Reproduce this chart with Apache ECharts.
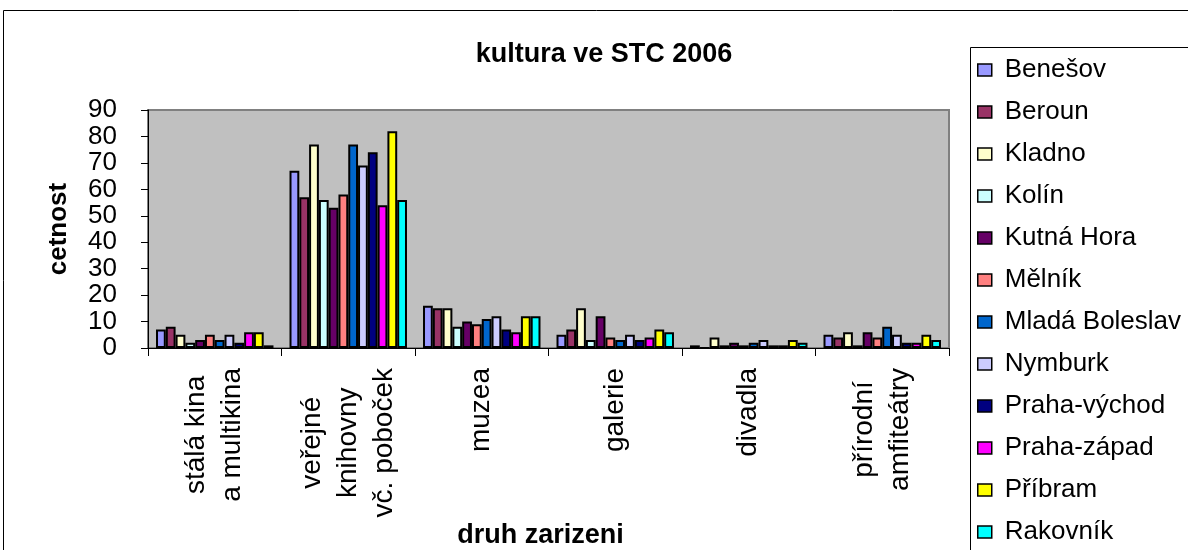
<!DOCTYPE html>
<html>
<head>
<meta charset="utf-8">
<script src="https://cdn.jsdelivr.net/npm/echarts@6/dist/echarts.min.js"></script>
<style>
  html, body { margin: 0; padding: 0; background: #fff; }
  #chart { width: 1188px; height: 550px; }
</style>
</head>
<body>
<div id="chart"></div>
<script>
// druh zarizeni
var categories = ['stálá kina\na multikina', 'veřejné\nknihovny\nvč. poboček', 'muzea', 'galerie', 'divadla', 'přírodní\namfiteátry'];
var okresy = ['Benešov', 'Beroun', 'Kladno', 'Kolín', 'Kutná Hora', 'Mělník', 'Mladá Boleslav', 'Nymburk', 'Praha-východ', 'Praha-západ', 'Příbram', 'Rakovník'];
var barvy = ['#9999FF', '#993366', '#FFFFCC', '#CCFFFF', '#660066', '#FF8080', '#0066CC', '#CCCCFF', '#000080', '#FF00FF', '#FFFF00', '#00FFFF'];

// cetnost po okresech (poradi jako categories)
var benesov = [7, 67, 16, 5, 1, 5];
var beroun = [8, 57, 15, 7, 0, 4];
var kladno = [5, 77, 15, 15, 4, 6];
var kolin = [2, 56, 8, 3, 1, 1];
var kutnaHora = [3, 53, 10, 12, 2, 6];
var melnik = [5, 58, 9, 4, 1, 4];
var mladaBoleslav = [3, 77, 11, 3, 2, 8];
var nymburk = [5, 69, 12, 5, 3, 5];
var prahaVychod = [2, 74, 7, 3, 1, 2];
var prahaZapad = [6, 54, 6, 4, 1, 2];
var pribram = [6, 82, 12, 7, 3, 5];
var rakovnik = [1, 56, 12, 6, 2, 3];
var yTicks = [0, 10, 20, 30, 40, 50, 60, 70, 80, 90];

var hodnoty = [benesov, beroun, kladno, kolin, kutnaHora, melnik, mladaBoleslav, nymburk, prahaVychod, prahaZapad, pribram, rakovnik];
var font = '"Liberation Sans", Arial, sans-serif';
var labelSize = 28;

// radky popisku vycentrovat mezi sebou (jako v Excelu)
var ctx = document.createElement('canvas').getContext('2d');
ctx.font = labelSize + 'px ' + font;
var rich = {};
var labelMap = {};
categories.forEach(function (cat, ci) {
  var lines = cat.split('\n');
  var widths = lines.map(function (s) { return ctx.measureText(s).width; });
  var maxW = Math.max.apply(null, widths);
  labelMap[cat] = lines.map(function (s, li) {
    var key = 'c' + ci + '_' + li;
    var p = (maxW - widths[li]) / 2;
    rich[key] = { fontFamily: font, fontSize: labelSize, lineHeight: 36, color: '#000', padding: [0, p, 0, p] };
    return '{' + key + '|' + s + '}';
  }).join('\n');
});

var myChart = echarts.init(document.getElementById('chart'));
myChart.setOption({
  animation: false,
  color: barvy,
  title: {
    text: 'kultura ve STC 2006',
    left: 599,
    top: 36,
    textAlign: 'center',
    textStyle: { fontFamily: font, fontSize: 27, fontWeight: 'bold', color: '#000' }
  },
  graphic: [
    // ramecek grafu a legendy
    { type: 'rect', shape: { x: 3.5, y: 10.5, width: 1300, height: 700 }, style: { fill: 'none', stroke: '#000', lineWidth: 1 }, silent: true },
    { type: 'rect', shape: { x: 970.5, y: 47.5, width: 400, height: 700 }, style: { fill: '#fff', stroke: '#000', lineWidth: 1 }, silent: true, z: -1 }
  ],
  legend: {
    orient: 'vertical',
    left: 977,
    top: 57,
    padding: 0,
    icon: 'rect',
    itemWidth: 14,
    itemHeight: 12,
    itemGap: 16,
    itemStyle: { borderColor: '#000', borderWidth: 1.5 },
    textStyle: { fontFamily: font, fontSize: 26, lineHeight: 26, color: '#000', padding: [0, 0, 0, 8] },
    data: okresy
  },
  grid: {
    left: 148,
    right: 239,
    top: 110,
    bottom: 196,
    show: true,
    backgroundColor: '#C0C0C0',
    borderColor: '#808080',
    borderWidth: 2
  },
  xAxis: {
    type: 'category',
    data: categories,
    name: 'druh zarizeni',
    nameLocation: 'middle',
    nameGap: 174,
    nameTextStyle: { fontFamily: font, fontSize: 27, fontWeight: 'bold', color: '#000', padding: [0, 16, 0, 0] },
    axisLine: { lineStyle: { color: '#000', width: 1 } },
    axisTick: { show: true, length: 8, lineStyle: { color: '#000' } },
    axisLabel: {
      interval: 0,
      rotate: 90,
      margin: 20,
      formatter: function (v) { return labelMap[v]; },
      rich: rich
    }
  },
  yAxis: {
    type: 'value',
    min: 0,
    max: 90,
    interval: 10,
    name: 'cetnost',
    nameLocation: 'middle',
    nameRotate: 90,
    nameGap: 76,
    nameTextStyle: { fontFamily: font, fontSize: 26, fontWeight: 'bold', color: '#000' },
    axisLine: { show: true, lineStyle: { color: '#000', width: 1 } },
    axisTick: { show: true, length: 7, lineStyle: { color: '#000' } },
    splitLine: { show: false },
    axisLabel: {
      margin: 31,
      fontFamily: font,
      fontSize: 26,
      lineHeight: 26,
      color: '#000',
      showMinLabel: true,
      showMaxLabel: true,
      hideOverlap: false,
      formatter: function (v) { return yTicks.indexOf(v) >= 0 ? String(v) : ''; }
    }
  },
  series: okresy.map(function (name, i) {
    return {
      name: name,
      type: 'bar',
      data: hodnoty[i],
      barGap: 0,
      barCategoryGap: '12%',
      itemStyle: { borderColor: '#000', borderWidth: 2 }
    };
  })
});
</script>
</body>
</html>
